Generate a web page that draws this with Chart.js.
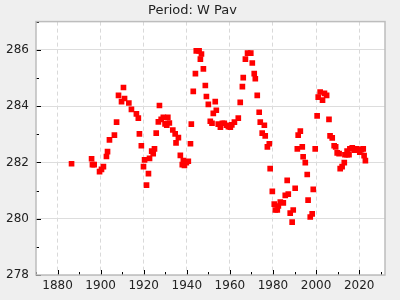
<!DOCTYPE html>
<html>
<head>
<meta charset="utf-8">
<script src="https://cdn.jsdelivr.net/npm/chart.js@4/dist/chart.umd.min.js"></script>
<style>
  html, body { margin: 0; padding: 0; background: #efefef; }
  #wrap { width: 400px; height: 300px; }
</style>
</head>
<body>
<div id="wrap"><canvas id="c" width="400" height="300"></canvas></div>
<script>
// observed period (days) by year
const years = [
  1886.5, 1895.8, 1896.2, 1897.0, 1899.5, 1900.4, 1901.3, 1902.7, 1903.2, 1904.1,
  1906.4, 1907.4, 1908.3, 1909.7, 1910.6, 1911.1, 1913.1, 1914.3, 1916.6, 1917.5,
  1918.0, 1918.9, 1919.9, 1920.4, 1921.3, 1922.2, 1922.7, 1923.7, 1924.4, 1925.0,
  1925.8, 1926.8, 1927.3, 1928.1, 1929.1, 1929.9, 1930.7, 1931.2, 1931.9, 1933.5,
  1934.6, 1935.0, 1936.1, 1937.0, 1937.9, 1938.9, 1938.4, 1939.8, 1940.7, 1941.7,
  1942.1, 1943.0, 1944.0, 1944.4, 1945.7, 1946.3, 1946.8, 1947.7, 1948.6, 1949.1,
  1950.0, 1950.9, 1951.7, 1952.3, 1953.2, 1953.7, 1954.6, 1955.6, 1956.5, 1957.4,
  1958.4, 1959.3, 1960.2, 1960.9, 1962.1, 1963.9, 1964.8, 1965.8, 1966.2, 1967.2,
  1968.2, 1969.7, 1970.4, 1971.3, 1971.8, 1972.7, 1973.6, 1974.1, 1975.0, 1976.0,
  1976.4, 1977.4, 1978.3, 1978.7, 1979.7, 1980.6, 1981.1, 1982.0, 1982.5, 1983.4,
  1984.8, 1985.7, 1986.6, 1987.1, 1988.0, 1988.9, 1989.4, 1990.3, 1991.3, 1991.7,
  1992.7, 1993.6, 1994.0, 1995.0, 1995.9, 1996.3, 1997.3, 1998.2, 1998.7, 1999.6,
  2000.5, 2001.0, 2001.9, 2003.0, 2003.9, 2004.9, 2006.0, 2006.5, 2007.5, 2008.4,
  2009.1, 2009.8, 2010.7, 2011.2, 2012.1, 2013.1, 2013.4, 2014.4, 2014.4, 2015.3,
  2015.7, 2016.8, 2017.9, 2018.8, 2020.0, 2020.3, 2021.1, 2021.9, 2022.3, 2022.9
]
const periods = [
  281.95, 282.13, 281.92, 281.92, 281.67, 281.75, 281.85, 282.21, 282.38, 282.80,
  282.97, 283.43, 284.38, 284.16, 284.66, 284.27, 284.11, 283.88, 283.72, 283.57,
  283.01, 282.59, 281.85, 282.09, 281.19, 281.60, 282.14, 282.40, 282.31, 282.48,
  283.04, 283.44, 284.02, 283.53, 283.60, 283.37, 283.32, 283.60, 283.40, 283.15,
  283.01, 282.69, 282.88, 282.25, 281.92, 281.89, 282.06, 281.99, 282.04, 282.66,
  283.36, 284.52, 285.15, 285.96, 285.96, 285.67, 285.85, 285.32, 284.73, 284.34,
  284.06, 283.46, 283.39, 283.74, 284.16, 283.85, 283.36, 283.25, 283.39, 283.39,
  283.32, 283.27, 283.25, 283.33, 283.43, 283.57, 284.13, 284.69, 285.01, 285.67,
  285.88, 285.88, 285.53, 285.15, 284.97, 284.38, 283.78, 283.43, 283.04, 283.32,
  282.94, 282.55, 282.66, 281.78, 280.97, 280.52, 280.31, 280.31, 280.45, 280.59,
  280.56, 280.83, 281.36, 280.87, 280.20, 279.88, 280.31, 281.08, 282.48, 282.97,
  283.11, 282.55, 282.20, 281.99, 281.57, 280.66, 280.06, 280.17, 281.04, 282.48,
  283.65, 284.32, 284.50, 284.21, 284.45, 284.38, 283.53, 282.94, 282.87, 282.59,
  282.55, 282.34, 282.31, 281.78, 281.85, 281.99, 282.27, 282.27, 282.40, 282.27,
  282.48, 282.52, 282.43, 282.48, 282.46, 282.36, 282.45, 282.48, 282.24, 282.06
]

const xTicks = [1870, 1880, 1890, 1900, 1910, 1920, 1930, 1940, 1950, 1960, 1970, 1980, 1990, 2000, 2010, 2020, 2030]
const yTicks = [278, 279, 280, 281, 282, 283, 284, 285, 286, 287]

const points = years.map((y, i) => ({ x: y, y: periods[i] }))

// white plot area, grey frame and inward tick marks
const framePlugin = {
  id: 'frame',
  beforeDraw(chart) {
    const { ctx, chartArea: a } = chart
    ctx.save()
    ctx.fillStyle = '#efefef'
    ctx.fillRect(0, 0, chart.width, chart.height)
    ctx.fillStyle = '#ffffff'
    ctx.fillRect(a.left, a.top, a.right - a.left, a.bottom - a.top)
    ctx.restore()
  },
  afterDatasetsDraw(chart) {
    const { ctx, chartArea: a, scales } = chart
    ctx.save()
    ctx.strokeStyle = '#000'
    ctx.lineWidth = 1
    ctx.beginPath()
    xTicks.forEach((v) => {
      const px = Math.round(scales.x.getPixelForValue(v)) + 0.5
      const len = v % 20 === 0 ? 5 : 3
      ctx.moveTo(px, a.bottom)
      ctx.lineTo(px, a.bottom - len)
    })
    yTicks.forEach((v) => {
      const py = Math.round(scales.y.getPixelForValue(v)) + 0.5
      const len = v % 2 === 0 ? 5 : 3
      ctx.moveTo(a.left, py)
      ctx.lineTo(a.left + len, py)
    })
    ctx.stroke()
    ctx.strokeStyle = '#bdbdbd'
    ctx.lineWidth = 1.5
    ctx.strokeRect(a.left, a.top, a.right - a.left, a.bottom - a.top)
    ctx.restore()
  },
}

new Chart(document.getElementById('c'), {
  type: 'scatter',
  data: {
    datasets: [
      {
        label: 'Period',
        data: points,
        backgroundColor: '#ff0000',
        borderWidth: 0,
        pointStyle: 'rect',
        pointRadius: 4,
      },
    ],
  },
  options: {
    responsive: false,
    animation: false,
    devicePixelRatio: 1,
    layout: { padding: { left: 0, right: 15, top: 0, bottom: 0 } },
    scales: {
      x: {
        type: 'linear',
        min: 1870,
        max: 2032,
        afterBuildTicks: (s) => { s.ticks = xTicks.map((v) => ({ value: v })) },
        afterFit: (s) => { s.height = 25 },
        border: { display: false, dash: [4, 3] },
        grid: {
          drawTicks: false,
          color: (c) => (c.tick && c.tick.value % 20 === 0 ? '#d9d9d9' : 'rgba(0,0,0,0)'),
        },
        ticks: {
          autoSkip: false,
          maxRotation: 0,
          padding: 4,
          color: '#222',
          font: { family: 'DejaVu Sans', size: 12 },
          callback: (v) => (v % 20 === 0 ? String(v) : ''),
        },
      },
      y: {
        min: 278,
        max: 287,
        afterBuildTicks: (s) => { s.ticks = yTicks.map((v) => ({ value: v })) },
        afterFit: (s) => { s.width = 36 },
        border: { display: false },
        grid: {
          drawTicks: false,
          color: (c) => (c.tick && c.tick.value % 2 === 0 ? '#dddddd' : 'rgba(0,0,0,0)'),
        },
        ticks: {
          autoSkip: false,
          padding: 7,
          color: '#222',
          font: { family: 'DejaVu Sans', size: 12 },
          callback: (v) => (v % 2 === 0 ? String(v) : ''),
        },
      },
    },
    plugins: {
      legend: { display: false },
      tooltip: { enabled: false },
      title: {
        display: true,
        text: 'Period: W Pav',
        color: '#222',
        font: { family: 'DejaVu Sans', size: 13, weight: 'normal' },
        padding: { top: 3, bottom: 3 },
      },
    },
  },
  plugins: [framePlugin],
})
</script>
</body>
</html>
